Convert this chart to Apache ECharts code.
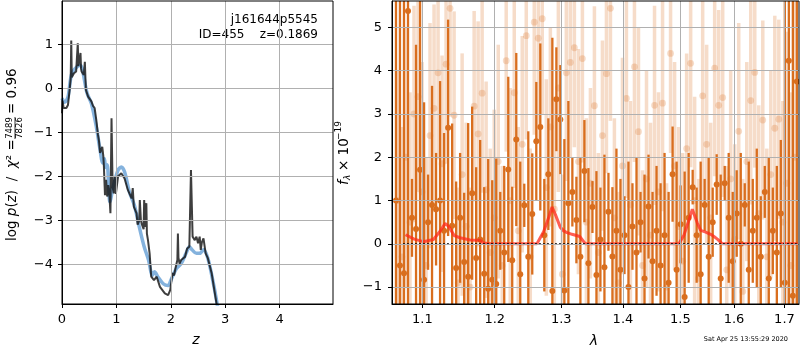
<!DOCTYPE html>
<html>
<head>
<meta charset="UTF-8">
<title>j161644p5545 redshift fit</title>
<script src="https://cdn.jsdelivr.net/npm/echarts@6/dist/echarts.min.js"></script>
<style>
  html, body { margin: 0; padding: 0; background: #fff; }
  #main { width: 800px; height: 350px; }
</style>
</head>
<body>
<div id="main"></div>
<script>
// ---- left panel: log p(z) ----
var zTicks = [0, 1, 2, 3, 4];
var lpTicks = [-4, -3, -2, -1, 0, 1];

var zDark = [0, 0.01, 0.03, 0.08, 0.11, 0.14, 0.16, 0.17, 0.18, 0.22, 0.26, 0.28, 0.29, 0.30, 0.31, 0.33, 0.34, 0.35, 0.36, 0.40,
  0.42, 0.43, 0.44, 0.48, 0.54, 0.57, 0.59, 0.60, 0.63, 0.66, 0.68, 0.70, 0.72, 0.74, 0.76, 0.77, 0.79, 0.81, 0.83, 0.85,
  0.87, 0.89, 0.91, 0.93, 0.95, 0.97, 0.99, 1.03, 1.09, 1.15, 1.21, 1.28, 1.30, 1.32, 1.37, 1.39, 1.42, 1.43, 1.45, 1.47,
  1.50, 1.51, 1.53, 1.55, 1.56, 1.58, 1.61, 1.64, 1.69, 1.74, 1.80, 1.89, 1.95, 1.99, 2.03, 2.06, 2.09, 2.12, 2.13, 2.14,
  2.16, 2.19, 2.26, 2.30, 2.34, 2.37, 2.40, 2.44, 2.47, 2.50, 2.53, 2.55, 2.57, 2.60, 2.64, 2.68, 2.75, 2.79, 2.84, 2.88];
var lpDark = [-0.57, -0.28, -0.45, -0.45, -0.38, -0.04, 0.23, 1.08, 0.25, 0.34, 0.38, 0.42, 1.02, 0.50, 0.49, 0.72, 0.80, 0.45, 0.38, 0.30,
  0.60, 0.25, -0.04, -0.19, -0.30, -0.40, -0.36, -0.45, -0.72, -1.05, -1.20, -1.47, -1.50, -1.33, -1.55, -1.78, -2.43, -2.08, -2.46, -2.20,
  -2.40, -2.84, -0.68, -2.24, -2.39, -2.00, -2.40, -2.00, -1.93, -2.05, -2.31, -2.50, -2.27, -2.69, -2.84, -3.10, -3.00, -2.54, -3.00, -3.10,
  -3.20, -2.54, -3.15, -2.61, -3.30, -3.45, -3.75, -4.28, -4.36, -4.28, -4.51, -4.66, -4.70, -4.58, -4.20, -4.25, -4.06, -3.90, -3.30, -3.85,
  -3.98, -3.90, -3.83, -3.64, -3.60, -1.86, -3.37, -3.45, -3.37, -3.52, -3.37, -3.67, -3.50, -3.41, -3.75, -3.86, -4.20, -4.51, -4.89, -5.30];

var zBlue = [0, 0.05, 0.11, 0.16, 0.20, 0.28, 0.33, 0.37, 0.41, 0.46, 0.54, 0.63, 0.69, 0.75, 0.78, 0.80, 0.83, 0.86, 0.88, 0.94,
  1.03, 1.09, 1.15, 1.24, 1.33, 1.42, 1.51, 1.59, 1.66, 1.70, 1.76, 1.86, 1.95, 2.01, 2.10, 2.19, 2.28, 2.34, 2.39, 2.47,
  2.53, 2.60, 2.68, 2.77, 2.85, 2.90];
var lpBlue = [-0.23, -0.32, -0.20, 0.23, 0.38, 0.49, 0.52, 0.45, 0.20, -0.11, -0.35, -0.87, -1.33, -1.70, -1.60, -1.80, -1.74, -2.30, -2.58, -2.24,
  -1.86, -1.79, -1.90, -2.36, -2.66, -3.15, -3.60, -3.90, -4.25, -4.17, -4.28, -4.44, -4.48, -4.33, -4.10, -3.98, -3.75, -3.60, -3.67, -3.75,
  -3.75, -3.67, -3.86, -4.36, -4.89, -5.30];

// ---- right panel: spectrum ----
var lamTicks = [1.1, 1.2, 1.3, 1.4, 1.5, 1.6, 1.7];
var fTicks = [-1, 0, 1, 2, 3, 4, 5];

var darkLam = [1.0657, 1.0708, 1.0760, 1.0812, 1.0864, 1.0917, 1.0970, 1.1023, 1.1076, 1.1129,
  1.1183, 1.1237, 1.1291, 1.1346, 1.1401, 1.1456, 1.1511, 1.1567, 1.1623, 1.1679,
  1.1735, 1.1792, 1.1849, 1.1906, 1.1964, 1.2022, 1.2080, 1.2138, 1.2197, 1.2255,
  1.2315, 1.2374, 1.2434, 1.2494, 1.2554, 1.2615, 1.2676, 1.2737, 1.2799, 1.2861,
  1.2923, 1.2985, 1.3048, 1.3111, 1.3174, 1.3238, 1.3302, 1.3366, 1.3431, 1.3496,
  1.3561, 1.3626, 1.3692, 1.3758, 1.3824, 1.3891, 1.3958, 1.4026, 1.4093, 1.4161,
  1.4230, 1.4299, 1.4368, 1.4437, 1.4507, 1.4577, 1.4648, 1.4718, 1.4790, 1.4861,
  1.4933, 1.5005, 1.5078, 1.5151, 1.5224, 1.5297, 1.5371, 1.5445, 1.5520, 1.5595,
  1.5670, 1.5746, 1.5822, 1.5898, 1.5975, 1.6052, 1.6130, 1.6208, 1.6286, 1.6365,
  1.6444, 1.6523, 1.6603, 1.6683, 1.6764, 1.6845, 1.6926, 1.7008, 1.7090, 1.7173, 1.7256];
var darkFlux = [1.0, -0.5, -0.68, 5.38, 0.6, 0.34, 1.71, -0.83, 0.5, 0.9,
  0.80, 1.0, 0.3, 2.68, 0.42, -0.56, 0.6, -0.42, -0.76, 1.17,
  -0.33, 0.1, -0.69, -1.04, -0.83, -0.93, 0.3, -0.2, 1.72, -0.38,
  2.41, -0.7, 0.89, -0.3, 0.69, 2.37, 2.7, 0.2, 1.61, -1.09,
  3.34, 2.87, -1.08, 0.94, 1.2, 0.55, -0.3, 1.68, -0.45, 0.85,
  -0.72, 0.1, -0.54, 0.74, -0.29, 0.3, -0.6, 0.2, -1.0, 0.4,
  -0.2, 0.5, -0.8, 0.86, -0.4, 0.3, -0.5, 0.2, -0.9, 1.61,
  -0.6, 0.45, -1.23, 0.6, 1.31, 0.2, -0.7, 0.9, -0.3, 0.5,
  1.37, -0.8, 1.4, 0.6, -0.4, 0.7, 0.0, 0.9, -0.6, 0.3,
  0.6, -0.3, 1.2, -0.8, 0.3, -0.2, 0.7, -0.9, 4.23, -1.2, 3.75];
var darkErr = [9, 9, 8, 9, 0.9, 4.26, 8, 4.1, 1.1, 2.75,
  1.3, 2.76, 2.26, 2.5, 2.36, 2.0, 1.5, 1.6, 3.55, 2.0,
  2.1, 2.3, 2.0, 3.0, 2.3, 2.9, 0.9, 2.0, 2.14, 1.7,
  2.0, 2.6, 0.5, 2.9, 1.4, 1.37, 1.93, 1.3, 1.29, 5.85,
  1.2, 1.26, 3.5, 2.36, 0.8, 1.0, 2.3, 1.18, 2.2, 0.6,
  2.4, 1.2, 2.6, 0.9, 1.6, 1.9, 2.1, 0.9, 2.9, 1.0,
  2.2, 0.7, 2.4, 1.2, 1.6, 1.5, 1.9, 1.9, 2.1, 1.1,
  2.5, 0.9, 2.9, 1.5, 0.4, 1.1, 2.6, 0.6, 2.3, 0.8,
  0.7, 2.4, 0.4, 1.5, 1.6, 1.0, 2.1, 0.5, 2.5, 1.2,
  1.6, 1.4, 0.6, 2.8, 1.0, 2.0, 1.7, 9, 9, 9, 9];

var lightLam = [1.0683, 1.0734, 1.0786, 1.0838, 1.0890, 1.0943, 1.0996, 1.1050, 1.1102, 1.1156,
  1.1210, 1.1264, 1.1318, 1.1373, 1.1428, 1.1483, 1.1539, 1.1595, 1.1651, 1.1707,
  1.1763, 1.1820, 1.1877, 1.1935, 1.1993, 1.2051, 1.2109, 1.2167, 1.2226, 1.2285,
  1.2344, 1.2404, 1.2464, 1.2524, 1.2584, 1.2645, 1.2706, 1.2768, 1.2830, 1.2892,
  1.2954, 1.3016, 1.3079, 1.3142, 1.3206, 1.3270, 1.3334, 1.3398, 1.3463, 1.3528,
  1.3593, 1.3659, 1.3725, 1.3791, 1.3857, 1.3924, 1.3992, 1.4059, 1.4127, 1.4195,
  1.4264, 1.4333, 1.4402, 1.4472, 1.4542, 1.4612, 1.4683, 1.4754, 1.4825, 1.4897,
  1.4969, 1.5041, 1.5114, 1.5187, 1.5260, 1.5334, 1.5408, 1.5482, 1.5557, 1.5632,
  1.5708, 1.5784, 1.5860, 1.5936, 1.6013, 1.6091, 1.6169, 1.6247, 1.6325, 1.6404,
  1.6483, 1.6563, 1.6643, 1.6723, 1.6804, 1.6885, 1.6967, 1.7049, 1.7131, 1.7214];
var lightFlux = [1.0, -0.3, 2.0, 0.5, 3.0, 3.4, 1.2, -0.5, 2.5, 3.13,
  3.95, 1.85, 4.15, 5.44, 2.97, -0.9, 1.6, 0.4, -1.0, 3.18,
  2.54, 3.48, 1.25, -0.2, 0.6, 1.9, -0.5, 4.23, 1.0, 3.49,
  0.3, 2.3, 4.81, -0.3, 5.12, 4.75, 5.2, 1.3, 2.7, 0.8,
  3.6, -0.7, 3.95, 4.19, 4.53, 1.9, 4.28, 0.5, 1.4, 3.19,
  -0.2, 2.5, 3.93, 5.44, 0.6, -0.9, 1.8, 3.36, 0.9, 4.09,
  2.59, -0.5, 1.5, 0.2, 3.2, 1.2, 3.25, -1.0, 4.4, 1.8,
  0.4, -0.4, 2.2, 4.17, 1.0, -0.8, 3.42, 2.3, 0.6, 4.06,
  3.2, 3.38, -0.6, 1.5, 0.1, 2.6, -1.1, 1.9, 3.31, 3.96,
  0.7, 2.86, -0.3, 1.6, 2.67, 2.88, 0.5, 1.4, -0.5, 2.0];
var lightErr = [3, 3, 3, 3, 2.5, 2.2, 3, 2.5, 2.6, 2.4,
  2.0, 2.5, 2.3, 2.5, 2.4, 2.2, 2.8, 2.4, 2.3, 2.2,
  2.6, 2.3, 2.5, 2.4, 2.5, 2.7, 2.3, 2.1, 2.6, 2.2,
  2.4, 2.5, 2.4, 2.5, 2.6, 2.4, 2.2, 2.5, 2.3, 2.6,
  2.4, 2.3, 2.5, 2.2, 2.3, 2.6, 2.4, 2.4, 2.2, 2.3,
  2.3, 2.2, 2.3, 2.6, 2.3, 2.1, 2.5, 2.3, 2.4, 2.2,
  2.4, 2.2, 2.5, 2.6, 2.3, 2.3, 2.5, 2.4, 2.3, 2.4,
  2.3, 2.5, 2.2, 2.4, 2.4, 2.3, 2.5, 2.3, 2.2, 2.5,
  2.2, 2.3, 2.4, 2.5, 2.2, 2.5, 2.6, 2.3, 2.4, 2.2,
  2.5, 2.3, 2.5, 2.4, 2.6, 2.3, 2.8, 3.5, 4, 4];

var modelLam = [1.078, 1.0893, 1.1013, 1.1147, 1.1237, 1.1304, 1.135, 1.143, 1.151, 1.165,
  1.175, 1.179, 1.1838, 1.193, 1.2625, 1.2726, 1.2803, 1.2856, 1.2907, 1.2985,
  1.3037, 1.3090, 1.3169, 1.3291, 1.3382, 1.4974, 1.5065, 1.5156, 1.5218, 1.5310,
  1.5371, 1.5464, 1.5557, 1.5619, 1.5683, 1.5778, 1.7275];
var modelFlux = [0.21, 0.11, 0.05, 0.10, 0.29, 0.47, 0.41, 0.19, 0.14, 0.09,
  0.08, 0.08, 0.02, 0.0, 0.0, 0.28, 0.6, 0.85, 0.68, 0.38,
  0.30, 0.26, 0.22, 0.17, 0.0, 0.0, 0.2, 0.55, 0.8, 0.48,
  0.31, 0.27, 0.22, 0.17, 0.11, 0.0, 0.0];
var zeroLam = [1.075, 1.725];

var FONT = 'DejaVu Sans';
var ORANGE = 'rgb(217,110,30)';
var ORANGE_L = 'rgba(217,110,30,0.24)';

function fmt(v) { return v < 0 ? '\u2212' + Math.abs(v) : String(v); }
function zip(a, b) {
  return a.map(function (v, i) { return [v, b[i]]; });
}
function lnData(lam, f, e) {
  return lam.map(function (l, i) { return e ? [Math.log(l), f[i], e[i]] : [Math.log(l), f[i]]; });
}

function errBars(color, lw, r) {
  return function (params, api) {
    var cs = params.coordSys;
    var x = api.value(0), y = api.value(1), e = api.value(2);
    var p = api.coord([x, y]);
    var top = Math.max(api.coord([x, y + e])[1], cs.y);
    var bot = Math.min(api.coord([x, y - e])[1], cs.y + cs.height);
    return {
      type: 'group',
      children: [
        { type: 'line', shape: { x1: p[0], y1: top, x2: p[0], y2: bot }, style: { stroke: color, lineWidth: lw } },
        { type: 'circle', shape: { cx: p[0], cy: p[1], r: r }, style: { fill: color } }
      ]
    };
  };
}

function xAx(grid, min, max, ticks, formatter) {
  return {
    gridIndex: grid, type: 'value', min: min, max: max, z: 5,
    axisLine: { show: true, onZero: false, lineStyle: { color: '#000', width: 1 } },
    axisTick: { show: true, length: 4, customValues: ticks, lineStyle: { color: '#000' } },
    axisLabel: { customValues: ticks, formatter: formatter, color: '#000', fontSize: 13, fontFamily: FONT, margin: 9 },
    splitLine: { show: true, lineStyle: { color: '#b0b0b0', width: 1 } }
  };
}
function yAx(grid, min, max, ticks, margin) {
  return {
    gridIndex: grid, type: 'value', min: min, max: max, z: 5,
    axisLine: { show: true, onZero: false, lineStyle: { color: '#000', width: 1 } },
    axisTick: { show: true, length: 4, customValues: ticks, lineStyle: { color: '#000' } },
    axisLabel: { customValues: ticks, formatter: fmt, color: '#000', fontSize: 13, fontFamily: FONT, margin: margin },
    splitLine: { show: true, lineStyle: { color: '#b0b0b0', width: 1 } }
  };
}

var chart = echarts.init(document.getElementById('main'), null, { renderer: 'canvas' });

var option = {
  animation: false,
  backgroundColor: '#fff',
  grid: [
    { left: 62, top: 1, width: 271, height: 303, show: true, borderColor: '#000', borderWidth: 1, z: 6 },
    { left: 392, top: 1, width: 407, height: 303, show: true, borderColor: '#000', borderWidth: 1, z: 6 }
  ],
  xAxis: [
    xAx(0, 0, 4.98, zTicks, fmt),
    xAx(1, Math.log(1.0606), Math.log(1.730), lamTicks.map(Math.log), function (v) { return Math.exp(v).toFixed(1); })
  ],
  yAxis: [
    yAx(0, -4.9, 1.98, lpTicks, 9),
    yAx(1, -1.39, 5.61, fTicks, 10)
  ],
  series: [
    {
      type: 'line', xAxisIndex: 0, yAxisIndex: 0, data: zip(zBlue, lpBlue), smooth: 0.3,
      showSymbol: false, lineStyle: { color: 'rgba(110,165,215,0.85)', width: 3.5 }
    },
    {
      type: 'line', xAxisIndex: 0, yAxisIndex: 0, data: zip(zDark, lpDark),
      showSymbol: false, lineStyle: { color: 'rgba(20,20,20,0.82)', width: 2 }
    },
    {
      type: 'custom', xAxisIndex: 1, yAxisIndex: 1, data: lnData(lightLam, lightFlux, lightErr),
      renderItem: errBars(ORANGE_L, 3.5, 3.4), clip: true
    },
    {
      type: 'custom', xAxisIndex: 1, yAxisIndex: 1, data: lnData(darkLam, darkFlux, darkErr),
      renderItem: errBars(ORANGE, 2.3, 3), clip: true
    },
    {
      type: 'line', xAxisIndex: 1, yAxisIndex: 1, data: lnData(modelLam, modelFlux),
      showSymbol: false, lineStyle: { color: 'rgba(255,40,25,0.75)', width: 3 }
    },
    {
      type: 'line', xAxisIndex: 1, yAxisIndex: 1, data: lnData(zeroLam, [0, 0]),
      showSymbol: false, lineStyle: { color: '#000', width: 1.5, type: [1.5, 2.5] }
    }
  ],
  graphic: [
    { type: 'text', x: 318, y: 20, style: { text: 'j161644p5545', fontSize: 12, fontFamily: FONT, fill: '#000', align: 'right', verticalAlign: 'middle' } },
    { type: 'text', x: 318, y: 35, style: { text: 'ID=455    z=0.1869', fontSize: 12, fontFamily: FONT, fill: '#000', align: 'right', verticalAlign: 'middle' } },
    { type: 'text', x: 196, y: 340, style: { text: 'z', fontSize: 14, fontStyle: 'italic', fontFamily: FONT, fill: '#000', align: 'center', verticalAlign: 'middle' } },
    { type: 'text', x: 594, y: 341, style: { text: 'λ', fontSize: 14, fontStyle: 'italic', fontFamily: FONT, fill: '#000', align: 'center', verticalAlign: 'middle' } },
    { type: 'text', x: 788, y: 339, style: { text: 'Sat Apr 25 13:55:29 2020', fontSize: 6.5, fontFamily: FONT, fill: '#000', align: 'right', verticalAlign: 'middle' } },
    {
      type: 'group', x: 12, y: 241, rotation: Math.PI / 2,
      children: [
        {
          type: 'text', x: 0, y: 0,
          style: {
            text: '{n|log }{i|p}{n|(}{i|z}{n|)  /  }{i|χ}{n|² =}',
            fontSize: 13.5, fontFamily: FONT, fill: '#000', align: 'left', verticalAlign: 'middle',
            rich: {
              n: { fontSize: 13.5, fontFamily: FONT, fill: '#000' },
              i: { fontSize: 13.5, fontFamily: FONT, fontStyle: 'italic', fill: '#000' }
            }
          }
        },
        { type: 'text', x: 113, y: -2, style: { text: '7489', fontSize: 8.5, fontFamily: FONT, fill: '#000', align: 'center', verticalAlign: 'middle' } },
        { type: 'line', shape: { x1: 102, y1: 3, x2: 124, y2: 3 }, style: { stroke: '#000', lineWidth: 0.8 } },
        { type: 'text', x: 113, y: 8, style: { text: '7826', fontSize: 8.5, fontFamily: FONT, fill: '#000', align: 'center', verticalAlign: 'middle' } },
        { type: 'text', x: 127, y: 0, style: { text: '= 0.96', fontSize: 13.5, fontFamily: FONT, fill: '#000', align: 'left', verticalAlign: 'middle' } }
      ]
    },
    {
      type: 'group', x: 344, y: 185, rotation: Math.PI / 2,
      children: [
        { type: 'text', x: 0, y: 0, style: { text: 'f', fontSize: 13.5, fontStyle: 'italic', fontFamily: FONT, fill: '#000', align: 'left', verticalAlign: 'middle' } },
        { type: 'text', x: 5, y: 4, style: { text: 'λ', fontSize: 9, fontStyle: 'italic', fontFamily: FONT, fill: '#000', align: 'left', verticalAlign: 'middle' } },
        { type: 'text', x: 14, y: 0, style: { text: '× 10', fontSize: 13.5, fontFamily: FONT, fill: '#000', align: 'left', verticalAlign: 'middle' } },
        { type: 'text', x: 45, y: -5, style: { text: '\u221219', fontSize: 9, fontFamily: FONT, fill: '#000', align: 'left', verticalAlign: 'middle' } }
      ]
    }
  ]
};
chart.setOption(option);
</script>
</body>
</html>
